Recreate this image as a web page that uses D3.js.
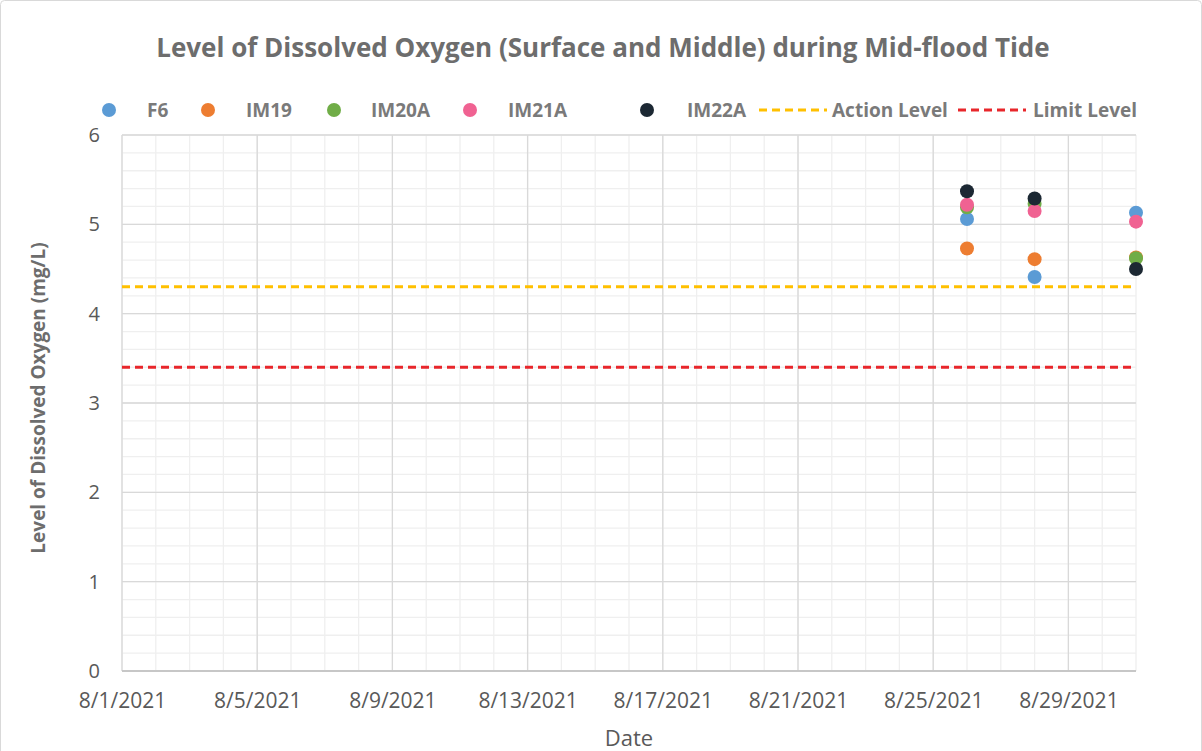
<!DOCTYPE html>
<html><head><meta charset="utf-8">
<script src="https://cdn.jsdelivr.net/npm/d3@7"></script>
<style>body{margin:0;background:#fff;}svg{display:block;font-family:"Open Sans","Noto Sans",sans-serif;}</style>
</head><body><svg id="c" width="1202" height="751"></svg>
<script>
const dates = ["2021-08-26", "2021-08-28", "2021-08-31"];
const seriesNames = ["F6", "IM19", "IM20A", "IM21A", "IM22A"];
const seriesColors = ["#5b9bd5", "#ed7d31", "#70ad47", "#f06292", "#1c2833"];
const F6 = [5.06, 4.41, 5.13];
const IM19 = [4.73, 4.61, 4.63];
const IM20A = [5.19, 5.23, 4.62];
const IM21A = [5.22, 5.15, 5.03];
const IM22A = [5.37, 5.29, 4.50];
const seriesValues = [F6, IM19, IM20A, IM21A, IM22A];
const actionLevel = 4.3;
const limitLevel = 3.4;
const xStart = "2021-08-01", xEnd = "2021-08-31";
const yTicks = [0, 1, 2, 3, 4, 5, 6];

const svg = d3.select("#c");
const parse = d3.utcParse("%Y-%m-%d");
const fmt = d => (d.getUTCMonth()+1) + "/" + d.getUTCDate() + "/" + d.getUTCFullYear();
const L = 122, R = 1136, T = 135, B = 671;
const FF = '"Open Sans","Noto Sans",sans-serif';
const x = d3.scaleUtc().domain([parse(xStart), parse(xEnd)]).range([L, R]);
const y = d3.scaleLinear().domain([0, 6]).range([B, T]);

svg.append("rect").attr("x",0.5).attr("y",0.5).attr("width",1201).attr("height",760).attr("rx",4)
  .attr("fill","#fff").attr("stroke","#d9d9d9");

// minor grid
const days = d3.utcDay.range(parse(xStart), d3.utcDay.offset(parse(xEnd),1));
svg.append("g").selectAll("line").data(days).join("line")
  .attr("x1",d=>x(d)).attr("x2",d=>x(d)).attr("y1",T).attr("y2",B)
  .attr("stroke","#efefef").attr("stroke-width",1.3);
const minorY = d3.range(0, 6.01, 0.2);
svg.append("g").selectAll("line").data(minorY).join("line")
  .attr("x1",L).attr("x2",R).attr("y1",d=>y(d)).attr("y2",d=>y(d))
  .attr("stroke","#efefef").attr("stroke-width",1.3);
// major grid
const majorX = d3.range(0, 31, 4).map(k => d3.utcDay.offset(parse(xStart), k));
svg.append("g").selectAll("line").data(majorX).join("line")
  .attr("x1",d=>x(d)).attr("x2",d=>x(d)).attr("y1",T).attr("y2",B)
  .attr("stroke","#d9d9d9").attr("stroke-width",1.3);
svg.append("g").selectAll("line").data(yTicks).join("line")
  .attr("x1",L).attr("x2",R).attr("y1",d=>y(d)).attr("y2",d=>y(d))
  .attr("stroke","#d9d9d9").attr("stroke-width",1.3);
svg.append("line").attr("x1",L).attr("x2",R).attr("y1",B).attr("y2",B).attr("stroke","#bfbfbf").attr("stroke-width",1.5);

// axes
const xAxis = d3.axisBottom(x).tickValues(majorX).tickFormat(fmt).tickSize(0).tickPadding(22);
const gx = svg.append("g").attr("transform",`translate(0,${B})`).call(xAxis)
  .attr("font-family",FF).attr("font-size",21);
gx.select(".domain").remove();
gx.selectAll("text").attr("fill","#595959");
const yAxis = d3.axisLeft(y).tickValues(yTicks).tickFormat(d3.format("d")).tickSize(0).tickPadding(22);
const gy = svg.append("g").attr("transform",`translate(${L},0)`).call(yAxis)
  .attr("font-family",FF).attr("font-size",20);
gy.select(".domain").remove();
gy.selectAll("text").attr("fill","#595959");

// reference lines
[[actionLevel,"#ffc000"],[limitLevel,"#e8262b"]].forEach(([v,c])=>{
  svg.append("line").attr("x1",L).attr("x2",R).attr("y1",y(v)).attr("y2",y(v))
    .attr("stroke",c).attr("stroke-width",3).attr("stroke-dasharray","8,5");
});

// points
seriesNames.forEach((n,i)=>{
  svg.append("g").selectAll("circle").data(seriesValues[i]).join("circle")
    .attr("cx",(d,j)=>x(parse(dates[j]))).attr("cy",d=>y(d)).attr("r",7)
    .attr("fill",seriesColors[i]);
});

// title
svg.append("text").attr("x",603).attr("y",57).attr("text-anchor","middle")
  .attr("fill","#6d6d6d").style("font-size","26px").style("font-weight","bold")
  .text("Level of Dissolved Oxygen (Surface and Middle) during Mid-flood Tide");
svg.append("text").attr("transform",`translate(45,${(T+B)/2 - 5}) rotate(-90)`).attr("text-anchor","middle")
  .attr("fill","#6d6d6d").style("font-size","19px").style("font-weight","bold")
  .text("Level of Dissolved Oxygen (mg/L)");
svg.append("text").attr("x",629).attr("y",746).attr("text-anchor","middle")
  .attr("fill","#595959").style("font-size","22px").text("Date");

// legend
const legY = 110;
const legMarkerX = [109, 208, 334, 470, 647];
const legTextX = [147, 246, 371, 508, 687];
seriesNames.forEach((n,i)=>{
  svg.append("circle").attr("cx",legMarkerX[i]).attr("cy",legY).attr("r",7).attr("fill",seriesColors[i]);
  svg.append("text").attr("x",legTextX[i]).attr("y",legY+7).attr("fill","#7a7a7a")
    .style("font-size","19px").style("font-weight","bold").text(n);
});
[["Action Level","#ffc000",759,832],["Limit Level","#e8262b",958,1033]].forEach(([n,c,lx,tx])=>{
  svg.append("line").attr("x1",lx).attr("x2",lx+68).attr("y1",legY).attr("y2",legY)
    .attr("stroke",c).attr("stroke-width",3).attr("stroke-dasharray","8,5");
  svg.append("text").attr("x",tx).attr("y",legY+7).attr("fill","#7a7a7a")
    .style("font-size","19px").style("font-weight","bold").text(n);
});
</script></body></html>
